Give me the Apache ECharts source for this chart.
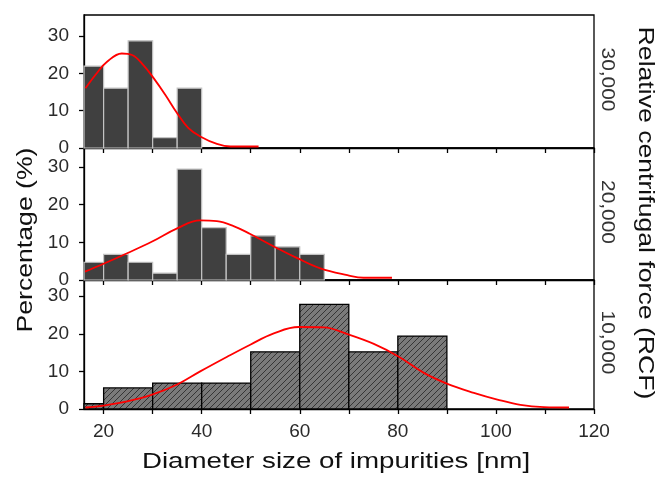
<!DOCTYPE html>
<html><head><meta charset="utf-8">
<script src="https://cdn.jsdelivr.net/npm/echarts@6/dist/echarts.min.js"></script>
<style>html,body{margin:0;padding:0;background:#fff}#c{width:660px;height:479px}</style>
</head><body><div id="c"></div>
<script>
// ---- data ----
const xTickValues = [20, 30, 40, 50, 60, 70, 80, 90, 100, 110, 120];
const xLabelValues = [20, 40, 60, 80, 100, 120];
const yTickValues = [0, 10, 20, 30];
const panelNames = ['30,000', '20,000', '10,000'];

const topEdges = [15, 20, 25, 30, 35, 40];
const topPct = [21.9, 16.0, 28.7, 2.8, 16.0];
const midEdges = [15, 20, 25, 30, 35, 40, 45, 50, 55, 60, 65];
const midPct = [4.7, 6.8, 4.7, 1.8, 29.4, 13.9, 6.8, 11.7, 8.8, 6.8];
const botEdges = [10, 20, 30, 40, 50, 60, 70, 80, 90];
const botPct = [1.4, 5.6, 6.9, 6.9, 15.2, 27.8, 15.2, 19.4];

const topFitX = [16.3, 18.6, 20.7, 23.7, 25.8, 28.1, 30.2, 32.6, 35, 37.3, 39.7, 43.1, 45.9, 51.6];
const topFitY = [16.0, 20.0, 23.1, 25.3, 24.9, 22.2, 18.7, 14.2, 9.3, 5.3, 3.1, 1.1, 0.4, 0.4];
const midFitX = [16.2, 20, 24.8, 29.9, 35, 39.7, 43.1, 46.5, 49.9, 54.7, 59.5, 64.2, 69.7, 73, 78.8];
const midFitY = [2.2, 4.3, 7.1, 10.2, 13.7, 15.8, 15.6, 14.3, 12.2, 8.9, 5.8, 3.1, 1.3, 0.6, 0.6];
const botFitX = [16.3, 20, 24.8, 29.9, 35, 39.7, 45.2, 49.9, 54.7, 59.8, 64.9, 69.7, 75.1, 80.2, 85.3, 90.1, 95.5, 100.3, 105, 109.8, 114.9];
const botFitY = [0.4, 0.9, 2.0, 3.8, 6.5, 10.0, 13.9, 17.1, 20.1, 21.8, 21.7, 19.9, 17.3, 13.9, 9.6, 6.7, 4.3, 2.5, 1.1, 0.5, 0.4];

// ---- helpers ----
function binData(edges, vals) { return vals.map((v, i) => [edges[i], edges[i + 1], v]); }
function zip(xs, ys) { return xs.map((x, i) => [x, ys[i]]); }

const pc = document.createElement('canvas'); pc.width = 6; pc.height = 6;
const g = pc.getContext('2d');
g.fillStyle = '#7a7a7a'; g.fillRect(0, 0, 6, 6);
g.strokeStyle = '#2e2e2e'; g.lineWidth = 0.9;
g.beginPath(); g.moveTo(0, 6); g.lineTo(6, 0); g.moveTo(-1, 1); g.lineTo(1, -1); g.moveTo(5, 7); g.lineTo(7, 5); g.stroke();
const hatch = { image: pc, repeat: 'repeat' };

function barRender(style) {
  return function (params, api) {
    const x0 = api.value(0), x1 = api.value(1), y = api.value(2);
    const p0 = api.coord([x0, y]), p1 = api.coord([x1, 0]);
    const cs = params.coordSys;
    const shape = echarts.graphic.clipRectByRect(
      { x: p0[0], y: p0[1], width: p1[0] - p0[0], height: p1[1] - p0[1] },
      { x: cs.x, y: cs.y, width: cs.width, height: cs.height });
    if (!shape) return null;
    return { type: 'rect', shape: shape, style: Object.assign({}, style) };
  };
}

const FONT = 'Liberation Sans';
const L = 84, R = 66;
const grids = [
  { left: L, right: R, top: 15, height: 133 },
  { left: L, right: R, top: 148, height: 132 },
  { left: L, right: R, top: 280, height: 129 }
];
const yMax = [35.6, 35.0, 34.3];

const chart = echarts.init(document.getElementById('c'), null, { renderer: 'canvas' });
chart.setOption({
  animation: false,
  backgroundColor: '#fff',
  grid: grids.map(gr => Object.assign({ show: true, borderColor: '#000', borderWidth: 1.3, backgroundColor: 'transparent' }, gr)),
  xAxis: [0, 1, 2].map(i => ({
    type: 'value', gridIndex: i, min: 16, max: 120,
    axisLine: { lineStyle: { color: '#000', width: 1.3 } },
    axisTick: { show: true, customValues: xTickValues, length: 5, lineStyle: { color: '#000', width: 1.3 } },
    axisLabel: { show: i === 2, customValues: xLabelValues, fontFamily: FONT, fontSize: 19, color: '#2a2a2a', margin: 13 },
    splitLine: { show: false }
  })),
  yAxis: [0, 1, 2].map(i => ({
    type: 'value', gridIndex: i, min: 0, max: yMax[i],
    axisLine: { show: true, lineStyle: { color: '#000', width: 1.3 } },
    axisTick: { show: true, customValues: yTickValues, length: 5, lineStyle: { color: '#000', width: 1.3 } },
    axisLabel: { customValues: yTickValues, fontFamily: FONT, fontSize: 19, color: '#2a2a2a', margin: 15 },
    splitLine: { show: false }
  })),
  series: [
    { type: 'custom', xAxisIndex: 0, yAxisIndex: 0, renderItem: barRender({ fill: '#404040', stroke: '#c4c4c4', lineWidth: 1.2 }), data: binData(topEdges, topPct), z: 2 },
    { type: 'custom', xAxisIndex: 1, yAxisIndex: 1, renderItem: barRender({ fill: '#404040', stroke: '#c4c4c4', lineWidth: 1.2 }), data: binData(midEdges, midPct), z: 2 },
    { type: 'custom', xAxisIndex: 2, yAxisIndex: 2, renderItem: barRender({ fill: hatch, stroke: '#000', lineWidth: 1.3 }), data: binData(botEdges, botPct), z: 2 },
    { type: 'line', xAxisIndex: 0, yAxisIndex: 0, data: zip(topFitX, topFitY), smooth: 0.4, showSymbol: false, lineStyle: { color: '#ff0000', width: 1.8 }, z: 5 },
    { type: 'line', xAxisIndex: 1, yAxisIndex: 1, data: zip(midFitX, midFitY), smooth: 0.4, showSymbol: false, lineStyle: { color: '#ff0000', width: 1.8 }, z: 5 },
    { type: 'line', xAxisIndex: 2, yAxisIndex: 2, data: zip(botFitX, botFitY), smooth: 0.4, showSymbol: false, lineStyle: { color: '#ff0000', width: 1.8 }, z: 5 }
  ],
  graphic: [
    { type: 'text', x: 26, y: 240, rotation: Math.PI / 2, scaleX: 1.21, style: { text: 'Percentage (%)', fontFamily: FONT, fontSize: 22, fill: '#111', align: 'center', verticalAlign: 'middle' } },
    { type: 'text', x: 336, y: 462, scaleX: 1.26, style: { text: 'Diameter size of impurities [nm]', fontFamily: FONT, fontSize: 22, fill: '#111', align: 'center', verticalAlign: 'middle' } },
    { type: 'text', x: 645, y: 213, rotation: -Math.PI / 2, scaleX: 1.21, style: { text: 'Relative centrifugal force (RCF)', fontFamily: FONT, fontSize: 22, fill: '#111', align: 'center', verticalAlign: 'middle' } }
  ].concat(panelNames.map((t, i) => ({
    type: 'text', x: 607, y: grids[i].top + grids[i].height / 2 - 2, rotation: -Math.PI / 2, scaleX: 1.1,
    style: { text: t, fontFamily: FONT, fontSize: 19, fill: '#333', align: 'center', verticalAlign: 'middle' }
  })))
});
</script></body></html>
